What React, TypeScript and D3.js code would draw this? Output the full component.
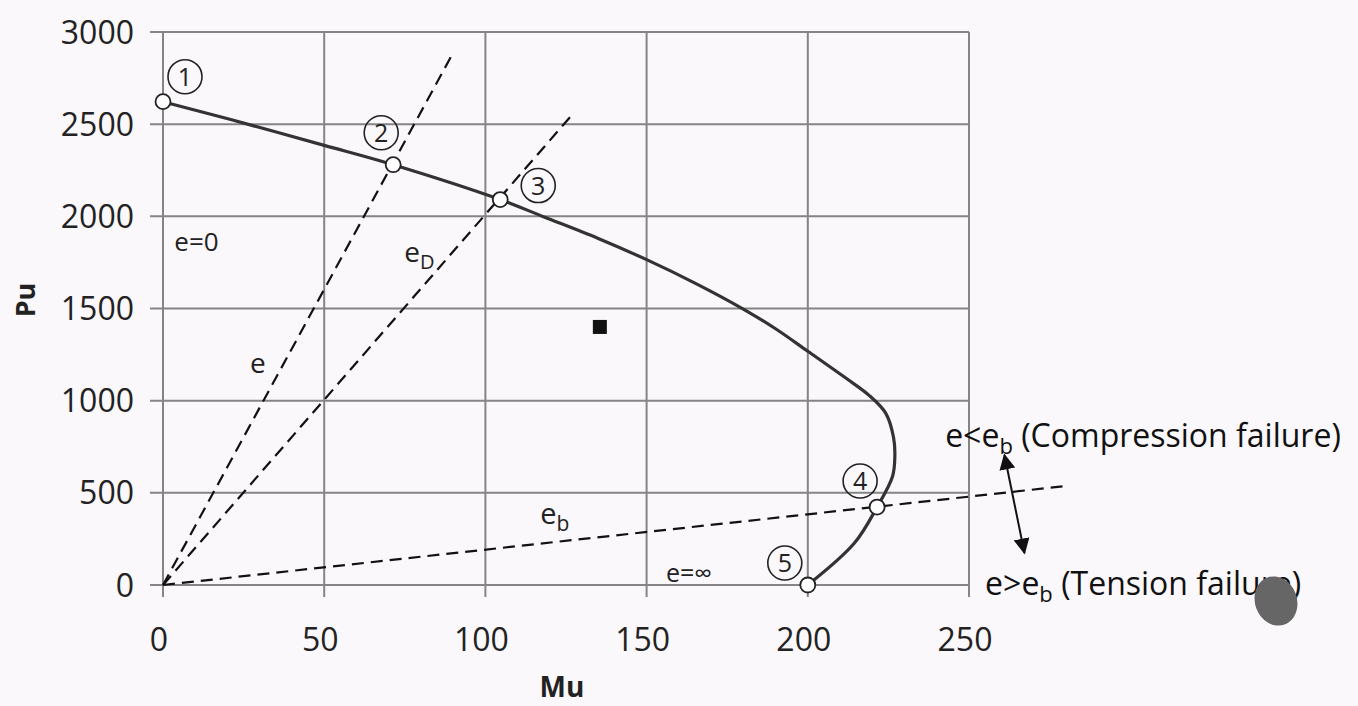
import React from 'react'
import * as d3 from 'd3'

const W = 1358
const H = 706

// interaction diagram
const curveMu = [0, 21, 50, 71.4, 104.6, 118, 135, 150, 165, 180, 190, 200, 212, 219, 224.2, 226.6, 227, 226.3, 221.5, 214.4, 200]
const curvePu = [2622, 2525, 2385, 2280, 2091, 1998, 1880, 1765, 1638, 1497, 1390, 1268, 1120, 1029, 931, 800, 700, 590, 423, 226, 0]

// numbered points on the curve
const pointLabel = ['1', '2', '3', '4', '5']
const pointMu = [0, 71.4, 104.6, 221.5, 200]
const pointPu = [2622, 2280, 2091, 423, 0]

// eccentricity lines from the origin (end points)
const lineMu = [89.8, 127.5, 279]
const linePu = [2881, 2563, 535]

const xTicks = [0, 50, 100, 150, 200, 250]
const yTicks = [0, 500, 1000, 1500, 2000, 2500, 3000]

const x = d3.scaleLinear().domain([0, 250]).range([163, 969])
const y = d3.scaleLinear().domain([0, 3000]).range([585, 32])

const font = '"Open Sans", "DejaVu Sans", sans-serif'
const gridColor = '#858585'

export default function App() {
  const line = d3.line<number>()
    .x((d, i) => x(curveMu[i]))
    .y((d, i) => y(curvePu[i]))
    .curve(d3.curveCatmullRom.alpha(0.5))

  // offsets of the circled numbers from their points, px
  const offX = [22, -12, 38, -17, -23]
  const offY = [-25, -32, -14, -26, -22]

  return (
    <div style={{ position: 'absolute', left: 0, top: 0 }}>
      <svg width={W} height={H} style={{ display: 'block', background: '#fbf8fb' }}>
        <defs>
          <marker id='arr' viewBox='0 0 10 10' refX='9' refY='5' markerWidth='8' markerHeight='8' orient='auto-start-reverse'>
            <path d='M0,0 L10,5 L0,10 z' fill='#111' />
          </marker>
        </defs>

        {/* grid */}
        <g stroke={gridColor} strokeWidth={2}>
          {xTicks.map(t => (
            <line key={'gx' + t} x1={x(t)} x2={x(t)} y1={y(3000)} y2={y(0) + 12} />
          ))}
          {yTicks.map(t => (
            <line key={'gy' + t} x1={x(0) - 13} x2={x(250)} y1={y(t)} y2={y(t)} />
          ))}
        </g>

        {/* tick labels */}
        <g fontFamily={font} fontSize={32} fill='#222'>
          {yTicks.map(t => (
            <text key={'ty' + t} x={x(0) - 29} y={y(t)} dy='0.36em' textAnchor='end'>{t}</text>
          ))}
          {xTicks.map(t => (
            <text key={'tx' + t} x={x(t) - 4} y={y(0) + 66} textAnchor='middle'>{t}</text>
          ))}
        </g>

        {/* axis titles */}
        <text x={562} y={697} textAnchor='middle' fontFamily={font} fontWeight='bold' fontSize={28} fill='#222'>Mu</text>
        <text transform='translate(35,300) rotate(-90)' textAnchor='middle' fontFamily={font} fontWeight='bold' fontSize={27} fill='#222'>Pu</text>

        {/* eccentricity lines */}
        <g stroke='#111' strokeWidth={2.2} strokeDasharray='12,7' fill='none'>
          {lineMu.map((m, i) => (
            <line key={'l' + i} x1={x(0)} y1={y(0)} x2={x(m)} y2={y(linePu[i])} />
          ))}
        </g>

        {/* interaction curve */}
        <path d={line(curveMu) || ''} fill='none' stroke='#333' strokeWidth={3.2} />

        {/* points */}
        {pointMu.map((m, i) => (
          <g key={'p' + i}>
            <circle cx={x(m)} cy={y(pointPu[i])} r={7.5} fill='#fff' stroke='#222' strokeWidth={1.8} />
            <circle cx={x(m) + offX[i]} cy={y(pointPu[i]) + offY[i]} r={17} fill='none' stroke='#222' strokeWidth={1.6} />
            <text x={x(m) + offX[i]} y={y(pointPu[i]) + offY[i]} dy='0.36em' textAnchor='middle'
              fontFamily={font} fontSize={25} fill='#222'>{pointLabel[i]}</text>
          </g>
        ))}

        {/* labels */}
        <g fontFamily={font} fontSize={26} fill='#222'>
          <text x={x(3.5)} y={y(1810)}>e=0</text>
          <text x={x(27)} y={y(1150)} fontSize={28}>e</text>
          <text x={x(74.8)} y={y(1752)} fontSize={28}>e<tspan fontSize={20} dy={7}>D</tspan></text>
          <text x={x(117)} y={y(330)} fontSize={29}>e<tspan fontSize={21} dy={7}>b</tspan></text>
          <text x={x(156)} y={y(16)} fontSize={25}>e=∞</text>
        </g>

        {/* stray marker */}
        <rect x={x(135.5) - 7} y={y(1400) - 7} width={14} height={14} fill='#111' />

        {/* failure annotations */}
        <g fontFamily={font} fontSize={32} fill='#111'>
          <text x={x(242.6)} y={y(749)}>e&lt;e<tspan fontSize={22} dy={7}>b</tspan><tspan dy={-7}> (Compression failure)</tspan></text>
          <text x={x(255)} y={y(-54)}>e&gt;e<tspan fontSize={22} dy={7}>b</tspan><tspan dy={-7}> (Tension failure)</tspan></text>
        </g>
        <line x1={x(261)} y1={y(705)} x2={x(267.2)} y2={y(174)} stroke='#111' strokeWidth={2}
          markerStart='url(#arr)' markerEnd='url(#arr)' />

        {/* smudge from the scan */}
        <ellipse cx={1276} cy={601} rx={21} ry={25} fill='#666' transform='rotate(-20,1276,601)' />
      </svg>
    </div>
  )
}
